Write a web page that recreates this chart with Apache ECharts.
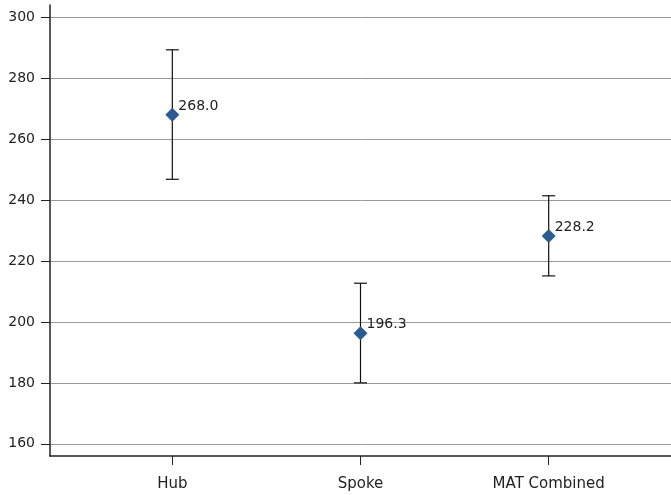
<!DOCTYPE html>
<html>
<head>
<meta charset="utf-8">
<script src="https://cdn.jsdelivr.net/npm/echarts@6/dist/echarts.min.js"></script>
<style>html,body{margin:0;padding:0;background:#fff}#c{width:671px;height:495px}</style>
</head>
<body>
<div id="c"></div>
<script>
const categories = ['Hub', 'Spoke', 'MAT Combined'];
const means = [268.0, 196.3, 228.2];
const lowers = [246.8, 180.0, 215.1];
const uppers = [289.3, 212.7, 241.4];
const yTicks = [160, 180, 200, 220, 240, 260, 280, 300];

const chart = echarts.init(document.getElementById('c'));
const font = 'DejaVu Sans';
chart.setOption({
  animation: false,
  grid: {left: 50, right: 0, top: 5, bottom: 39, containLabel: false},
  xAxis: {
    type: 'value', min: -0.65, max: 2.65,
    axisLine: {show: true, onZero: false, lineStyle: {color: '#222', width: 1.5}},
    axisTick: {show: true, customValues: [0, 1, 2], length: 9, lineStyle: {color: '#222'}},
    axisLabel: {customValues: [0, 1, 2], formatter: v => categories[Math.round(v)],
      color: '#222', fontFamily: font, fontSize: 15, margin: 21},
    splitLine: {show: false}
  },
  yAxis: {
    type: 'value', min: 156, max: 304,
    axisLine: {show: true, onZero: false, lineStyle: {color: '#222', width: 1.5}},
    axisTick: {show: true, customValues: yTicks, length: 9, lineStyle: {color: '#222'}},
    axisLabel: {customValues: yTicks, color: '#222', fontFamily: font, fontSize: 14, margin: 15},
    splitLine: {show: true, lineStyle: {color: '#999', width: 1}}
  },
  series: [
    {
      type: 'custom',
      z: 2,
      data: categories.map((c, i) => [i, lowers[i], uppers[i]]),
      renderItem: function (params, api) {
        const x = api.value(0);
        const lo = api.coord([x, api.value(1)]);
        const hi = api.coord([x, api.value(2)]);
        const hw = 6.5;
        const st = {stroke: '#111', lineWidth: 1.2};
        return {type: 'group', children: [
          {type: 'line', shape: {x1: lo[0], y1: lo[1], x2: hi[0], y2: hi[1]}, style: st},
          {type: 'line', shape: {x1: lo[0] - hw, y1: lo[1], x2: lo[0] + hw, y2: lo[1]}, style: st},
          {type: 'line', shape: {x1: hi[0] - hw, y1: hi[1], x2: hi[0] + hw, y2: hi[1]}, style: st}
        ]};
      }
    },
    {
      type: 'scatter',
      z: 3,
      symbol: 'diamond',
      symbolSize: 14,
      itemStyle: {color: '#2c5b92', opacity: 1},
      label: {show: true, position: 'right', distance: 0, offset: [-1, -8.5],
        formatter: p => p.value[1].toFixed(1), color: '#222', fontFamily: font, fontSize: 14},
      data: categories.map((c, i) => [i, means[i]])
    }
  ]
});
</script>
</body>
</html>
